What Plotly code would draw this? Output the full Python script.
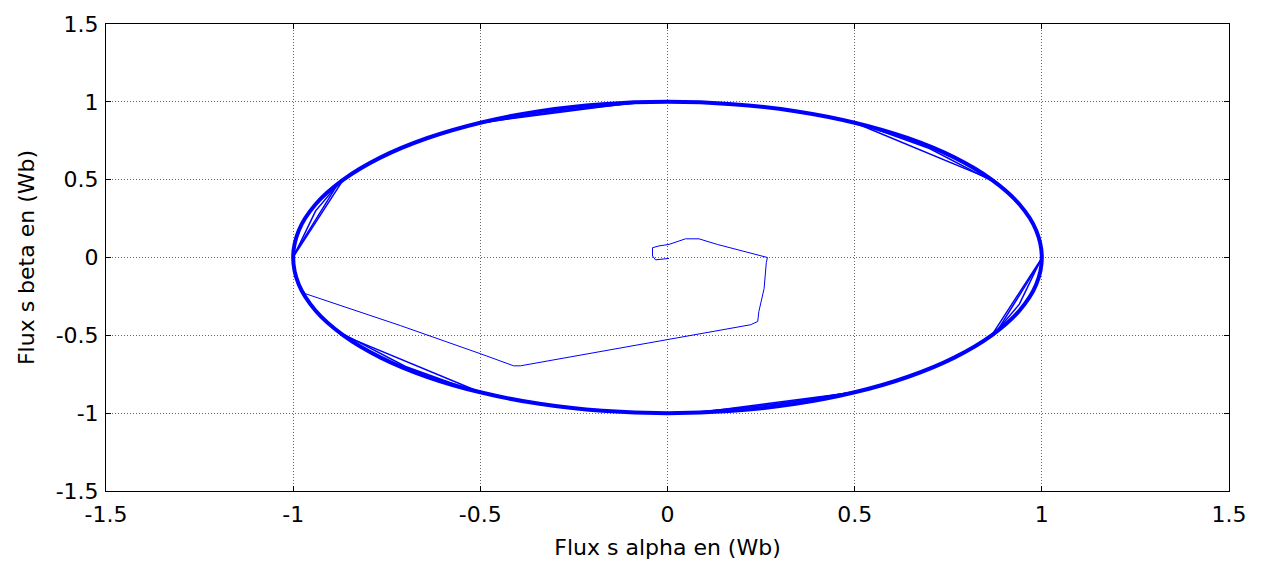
import plotly.graph_objects as go

# Start-up transient of the stator flux
transient_x = [0.004, -0.032, -0.040, -0.040, -0.023, 0.004, 0.048, 0.084, 0.133, 0.186, 0.231, 0.267,
               0.264, 0.258, 0.244, 0.241, 0.222, 0.000, -0.393, -0.411, -0.500, -0.714, -0.968, -0.985]
transient_y = [-0.006, -0.015, 0.010, 0.063, 0.074, 0.084, 0.120, 0.120, 0.084, 0.049, 0.021, 0.000,
               -0.032, -0.200, -0.348, -0.411, -0.432, -0.527, -0.696, -0.696, -0.618, -0.437, -0.232, -0.170]

# Steady-state circular trajectory (many overlapping laps -> thick band)
band_x = [-1.000, -0.985, -0.940, -0.866, -0.766, -0.643, -0.500, -0.342, -0.174, 0.000,
          0.174, 0.342, 0.500, 0.643, 0.766, 0.866, 0.940, 0.985, 1.000,
          0.985, 0.940, 0.866, 0.766, 0.643, 0.500, 0.342, 0.174, 0.000,
          -0.174, -0.342, -0.500, -0.643, -0.766, -0.866, -0.940, -0.985, -1.000]
band_y = [0.000, 0.174, 0.342, 0.500, 0.643, 0.766, 0.866, 0.940, 0.985, 1.000,
          0.985, 0.940, 0.866, 0.766, 0.643, 0.500, 0.342, 0.174, 0.000,
          -0.174, -0.342, -0.500, -0.643, -0.766, -0.866, -0.940, -0.985, -1.000,
          -0.985, -0.940, -0.866, -0.766, -0.643, -0.500, -0.342, -0.174, 0.000]

# Chord-like laps in alternate sectors (segments separated by None)
chord_x = [-0.866, -0.998, None, -0.880, -0.995, None, -0.875, -0.940, -0.996, None,
           -0.500, -0.080, None, -0.470, -0.120, None, -0.520, -0.300, -0.060, None,
           0.500, 0.866, None, 0.520, 0.700, 0.880, None,
           0.866, 0.998, None, 0.880, 0.995, None, 0.875, 0.940, 0.996, None,
           0.500, 0.080, None, 0.470, 0.120, None, 0.520, 0.300, 0.060, None,
           -0.500, -0.866, None, -0.520, -0.700, -0.880]
chord_y = [0.500, 0.010, None, 0.475, 0.030, None, 0.485, 0.300, 0.020, None,
           0.866, 0.997, None, 0.880, 0.993, None, 0.855, 0.940, 0.998, None,
           0.866, 0.500, None, 0.855, 0.700, 0.475, None,
           -0.500, -0.010, None, -0.475, -0.030, None, -0.485, -0.300, -0.020, None,
           -0.866, -0.997, None, -0.880, -0.993, None, -0.855, -0.940, -0.998, None,
           -0.866, -0.500, None, -0.855, -0.700, -0.475]

tick_vals = [-1.5, -1, -0.5, 0, 0.5, 1, 1.5]
tick_text = ["-1.5", "-1", "-0.5", "0", "0.5", "1", "1.5"]

blue = "#0000ff"
fig = go.Figure()
fig.add_trace(go.Scatter(x=band_x, y=band_y, mode="lines",
                         line=dict(color=blue, width=4, shape="spline", smoothing=1.0),
                         hoverinfo="skip"))
fig.add_trace(go.Scatter(x=chord_x, y=chord_y, mode="lines",
                         line=dict(color=blue, width=1.5), hoverinfo="skip"))
fig.add_trace(go.Scatter(x=transient_x, y=transient_y, mode="lines",
                         line=dict(color=blue, width=1), hoverinfo="skip"))

axis_common = dict(
    range=[-1.5, 1.5], tickmode="array", tickvals=tick_vals, ticktext=tick_text,
    showline=True, linecolor="black", linewidth=1, mirror="ticks",
    ticks="inside", ticklen=5, tickcolor="black",
    showgrid=True, gridcolor="#666666", griddash="1px,2px", gridwidth=1,
    zeroline=False, tickfont=dict(size=22, color="black"),
)

fig.update_layout(
    width=1261, height=568,
    margin=dict(l=106, r=32, t=18, b=76),
    plot_bgcolor="white", paper_bgcolor="white",
    showlegend=False,
    font=dict(family="DejaVu Sans, Arial, sans-serif", size=22, color="black"),
    xaxis=dict(axis_common, ticklabelstandoff=4,
               title=dict(text="Flux s alpha en (Wb)", standoff=13, font=dict(size=22))),
    yaxis=dict(axis_common, ticklabelstandoff=2,
               title=dict(text="Flux s beta en (Wb)", standoff=14, font=dict(size=22))),
)

fig.write_html("out.html")
